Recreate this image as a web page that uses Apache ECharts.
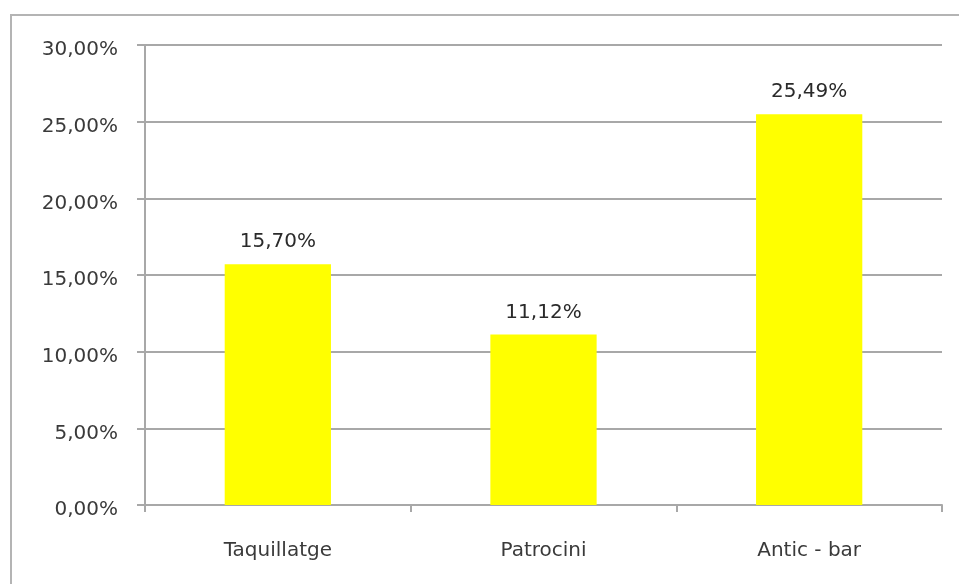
<!DOCTYPE html>
<html>
<head>
<meta charset="utf-8">
<style>
html,body{margin:0;padding:0;background:#fff;overflow:hidden;}
#c{width:959px;height:584px;}
</style>
<script src="https://cdn.jsdelivr.net/npm/echarts@6/dist/echarts.min.js"></script>
</head>
<body>
<div id="c"></div>
<script>
const categories = ['Taquillatge', 'Patrocini', 'Antic - bar'];
const values = [15.70, 11.12, 25.49];
const yTicks = { min: 0, max: 30, interval: 5 };

function fmt(v) { return v.toFixed(2).replace('.', ',') + '%'; }

const chart = echarts.init(document.getElementById('c'), null, { renderer: 'canvas' });
chart.setOption({
  animation: false,
  backgroundColor: '#ffffff',
  textStyle: { fontFamily: 'DejaVu Sans' },
  graphic: [{
    type: 'rect',
    shape: { x: 11, y: 15, width: 1000, height: 1000 },
    style: { fill: 'none', stroke: '#b4b4b4', lineWidth: 2 },
    silent: true
  }],
  grid: { left: 145, right: 17, top: 45, bottom: 79, containLabel: false },
  xAxis: {
    type: 'category',
    data: categories,
    boundaryGap: true,
    axisLine: { lineStyle: { color: '#a8a8a8', width: 2 } },
    axisTick: { show: true, length: 7, lineStyle: { color: '#a8a8a8', width: 2 } },
    axisLabel: { color: '#3a3a3a', fontSize: 20, margin: 36, fontFamily: 'DejaVu Sans' },
    splitLine: { show: false }
  },
  yAxis: {
    type: 'value',
    min: yTicks.min, max: yTicks.max, interval: yTicks.interval,
    axisLine: { show: true, lineStyle: { color: '#a8a8a8', width: 2 } },
    axisTick: { show: true, length: 8, lineStyle: { color: '#a8a8a8', width: 2 } },
    axisLabel: {
      color: '#3a3a3a', fontSize: 20, margin: 27, fontFamily: 'DejaVu Sans',
      formatter: v => '{a|' + fmt(v) + '}',
      rich: { a: { color: '#3a3a3a', fontSize: 20, fontFamily: 'DejaVu Sans', padding: [10, 0, 0, 0] } }
    },
    splitLine: { show: true, lineStyle: { color: '#a8a8a8', width: 2 } }
  },
  series: [{
    type: 'bar',
    data: values,
    barWidth: '40%',
    itemStyle: { color: '#FFFF00' },
    label: {
      show: true, position: 'top', distance: 12,
      color: '#2a2a2a', fontSize: 20, fontFamily: 'DejaVu Sans',
      formatter: p => fmt(p.value)
    }
  }]
});
</script>
</body>
</html>
